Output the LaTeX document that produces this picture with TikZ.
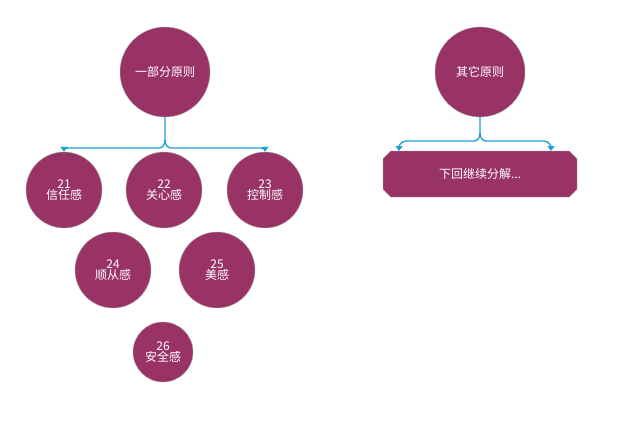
\documentclass[tikz,border=0pt]{standalone}
\usepackage{fontspec}
\setmainfont{Noto Sans CJK SC}
\usetikzlibrary{shapes.misc,arrows.meta}
\definecolor{plum}{HTML}{993366}
\definecolor{linkblue}{HTML}{1E9FD2}
\tikzset{
  bigc/.style={circle, fill=plum, draw=gray!70, minimum size=90pt, inner sep=0pt, text=white, font=\fontsize{12}{14}\selectfont, align=center},
  midc/.style={bigc, minimum size=76pt},
  smallc/.style={bigc, minimum size=60pt},
  link/.style={draw=linkblue, line width=1.3pt, -{Triangle[width=7pt,length=5pt]}}
}
\begin{document}
\begin{tikzpicture}[x=1pt,y=-1pt]
	\useasboundingbox (0,0) rectangle (618,425);

		\node[bigc] (top) at (165,72) {一部分原则};
		\node[midc] (n21) at (64,190) {21\\[-3pt]信任感};
		\node[midc] (n22) at (164,190) {22\\[-3pt]关心感};
		\node[midc] (n23) at (265,190) {23\\[-3pt]控制感};
		\node[midc] (n24) at (113,270) {24\\[-3pt]顺从感};
		\node[midc] (n25) at (217,270) {25\\[-3pt]美感};
		\node[smallc] (n26) at (163,352) {26\\[-3pt]安全感};

		\node[bigc] (other) at (480,72) {其它原则};
		\node[chamfered rectangle, chamfered rectangle xsep=4pt, fill=plum, draw=gray!70, text=white,
		      minimum width=194pt, minimum height=46pt, font=\fontsize{12}{14}\selectfont] (next) at (480,174) {下回继续分解...};

		% branches
		\coordinate (tj) at (165,140);
		\draw[link] (top.south) -- (tj) to[out=-90,in=0] (159,148) -- (71,148) to[out=180,in=90] (n21.north);
		\draw[link] (tj) to[out=-90,in=180] (171,148) -- (258,148) to[out=0,in=90] (n23.north);

		\coordinate (oj) at (480,133);
		\draw[link] (other.south) -- (oj) to[out=-90,in=0] (474,141) -- (406,141) to[out=180,in=90] (399,151);
		\draw[link] (oj) to[out=-90,in=180] (486,141) -- (544,141) to[out=0,in=90] (551,151);

\end{tikzpicture}
\end{document}
